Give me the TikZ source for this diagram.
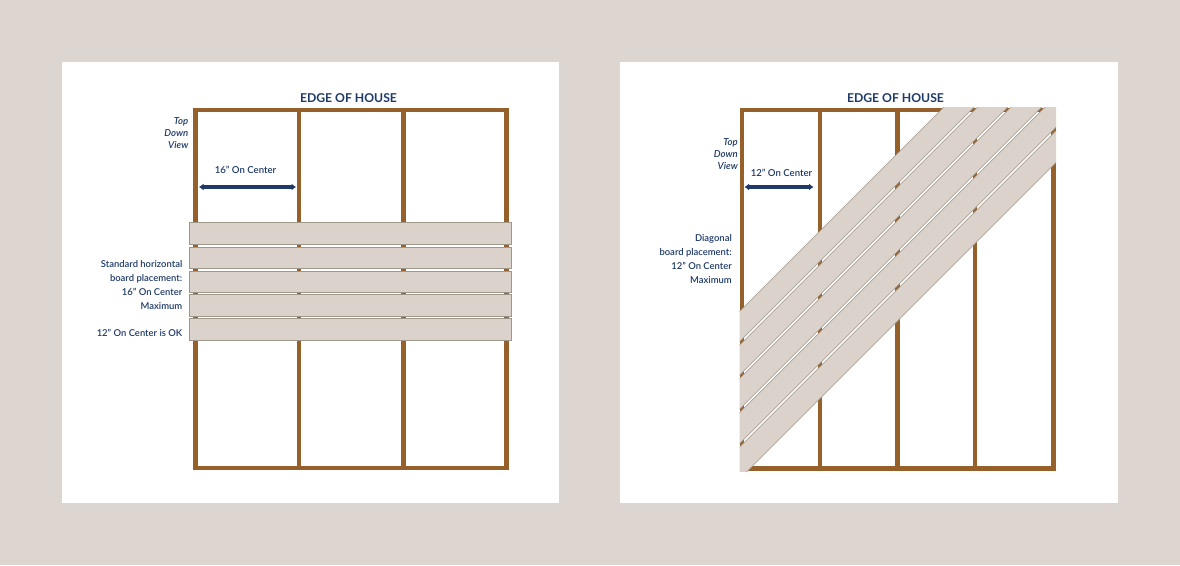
\documentclass[tikz,border=0pt]{standalone}
\usepackage{fontspec}
\setmainfont{Lato}[UprightFont=* Semibold, ItalicFont=* Semibold Italic, BoldFont=* Bold]
\usetikzlibrary{arrows.meta}
\definecolor{sand}{HTML}{DDD5CF}
\definecolor{plank}{HTML}{DAD2CB}
\definecolor{plankedge}{HTML}{A0978B}
\definecolor{joist}{HTML}{96602B}
\definecolor{navy}{HTML}{1F3A68}
\tikzset{
	frameline/.style={line width=4.4pt, color=joist},
	boardbox/.style={fill=plank, draw=plankedge, line width=0.8pt},
	boardedge/.style={draw=plankedge, line width=0.5pt},
	spanarrow/.style={line width=3.6pt, color=navy, {Latex[length=4.5pt,width=7pt]}-{Latex[length=4.5pt,width=7pt]}},
	titletext/.style={color=navy, font=\fontsize{12.2}{14}\selectfont\bfseries},
	spantext/.style={color=navy, font=\fontsize{9.6}{12}\selectfont},
	viewtext/.style={color=navy, align=right, anchor=east, inner sep=0pt, font=\fontsize{9.6}{12}\selectfont\itshape},
	notetext/.style={color=navy, align=right, anchor=east, inner sep=0pt, font=\fontsize{9.45}{14}\selectfont}
}
% one diagonal board between the lines x+y=#1 and x+y=#2
\def\diagboard(#1:#2){
	\fill[plank] ({#1-1100}, 1100) -- (1100, {#1-1100}) -- (1100, {#2-1100}) -- ({#2-1100}, 1100) -- cycle;
	\draw[boardedge] ({#1-1100}, 1100) -- (1100, {#1-1100});
	\draw[boardedge] ({#2-1100}, 1100) -- (1100, {#2-1100});
}
\begin{document}
\begin{tikzpicture}[x=1pt, y=-1pt]
		%%%%% START %%%%%
		
		\useasboundingbox (0, 0) rectangle (1180, 565);
		\fill[sand] (0, 0) rectangle (1180, 565);
		\fill[white] (62, 62) rectangle (559, 503);
		\fill[white] (620, 62) rectangle (1118, 503);
		
		% left panel
		\draw[frameline] (195.5, 110) rectangle (506.5, 468);
		\draw[frameline] (299, 110) -- (299, 468);
		\draw[frameline] (403.5, 110) -- (403.5, 468);
		
		\draw[boardbox] (189.8, 222.8) rectangle (511, 244);
		\draw[boardbox] (189.8, 247) rectangle (511, 268);
		\draw[boardbox] (189.8, 271.2) rectangle (511, 292.6);
		\draw[boardbox] (189.8, 294.6) rectangle (511, 316.4);
		\draw[boardbox] (189.8, 318.8) rectangle (511, 340.4);
		
		\node[titletext] (edgeleft) at (348.5, 98) {EDGE OF HOUSE};
		\node[viewtext] (viewleft) at (188.5, 133) {Top\\Down\\View};
		\node[spantext] (spanleft) at (245.5, 170) {16” On Center};
		\coordinate (spanleftA) at (199, 187);
		\coordinate (spanleftB) at (296, 187);
		\draw[spanarrow] (spanleftA) -- (spanleftB);
		\node[notetext] (noteleft) at (182.5, 285) {Standard horizontal\\board placement:\\16” On Center\\Maximum};
		\node[notetext] (okleft) at (182.5, 333) {12” On Center is OK};
		
		% right panel
		\draw[frameline] (742, 110) rectangle (1053.5, 468.5);
		\draw[frameline] (820, 110) -- (820, 468.5);
		\draw[frameline] (897.5, 110) -- (897.5, 468.5);
		\draw[frameline] (975, 110) -- (975, 468.5);
		
		\begin{scope}
			\clip (739.5, 107.5) rectangle (1056, 471);
			\diagboard(1051:1081.3)
			\diagboard(1084.7:1114.8)
			\diagboard(1118.2:1148.8)
			\diagboard(1152.2:1183.3)
			\diagboard(1186.7:1218.5)
		\end{scope}
		
		\node[titletext] (edgeright) at (895.5, 98) {EDGE OF HOUSE};
		\node[viewtext] (viewright) at (738, 154) {Top\\Down\\View};
		\node[spantext] (spanright) at (781.5, 173) {12” On Center};
		\coordinate (spanrightA) at (744.5, 187);
		\coordinate (spanrightB) at (813.5, 187);
		\draw[spanarrow] (spanrightA) -- (spanrightB);
		\node[notetext] (noteright) at (732, 259) {Diagonal\\board placement:\\12” On Center\\Maximum};
		
		%%%%% END %%%%%
	\end{tikzpicture}
\end{document}
